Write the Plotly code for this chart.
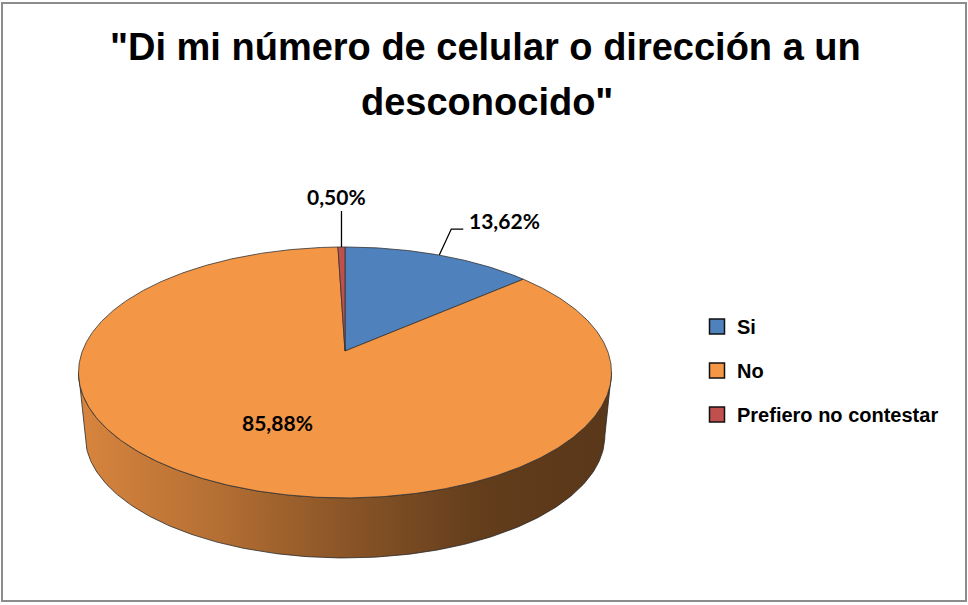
import numpy as np
import plotly.graph_objects as go

# ---------------- data ----------------
categories = ["Si", "No", "Prefiero no contestar"]
percentages = [13.62, 85.88, 0.50]
label_texts = ["13,62%", "85,88%", "0,50%"]
title_lines = ["\"Di mi número de celular o dirección a un", "desconocido\""]

# ---------------- style ----------------
slice_colors = ["#4F81BD", "#F39646", "#C0504D"]
TITLE_FONT = "Liberation Sans, Arial, sans-serif"
LABEL_FONT = "Lato, Carlito, Calibri, Open Sans, sans-serif"
W, H = 968, 605

# 3-D pie geometry (pixel space, perspective tilt)
CX, CY = 345.0, 351.0
RX, RY, K = 262.6, 121.8, 0.171
BOTTOM_CY, BOTTOM_SCALE = 414.7, 0.975
side_shade = [(0.0, 0.89), (0.25, 0.75), (0.5, 0.57), (0.75, 0.41), (1.0, 0.37)]


def proj(theta_deg, r=1.0, cy=CY, s=1.0):
    t = np.radians(theta_deg)
    u = r * np.sin(t)
    v = r * np.cos(t)
    d = 1 + K * v
    return CX + RX * s * u / d, cy - RY * s * v / d


def hex_to_rgb(h):
    h = h.lstrip("#")
    return tuple(int(h[i:i + 2], 16) for i in (0, 2, 4))


fig = go.Figure()

# slice angles (clockwise from 12 o'clock)
total = sum(percentages)
bounds = []
acc = 0.0
for p in percentages:
    a0 = acc / total * 360
    acc += p
    a1 = acc / total * 360
    bounds.append((a0, a1))

# ---- visible side wall (front half) ----
tR = np.degrees(np.arccos(-K))
tL = 360 - tR
for (a0, a1), col in zip(bounds, slice_colors):
    s0, s1 = max(a0, tR), min(a1, tL)
    if s1 <= s0:
        continue
    th = np.linspace(s0, s1, 200)
    xt, yt = proj(th)
    xb, yb = proj(th[::-1], cy=BOTTOM_CY, s=BOTTOM_SCALE)
    xs = np.concatenate([xt, xb, xt[:1]])
    ys = np.concatenate([yt, yb, yt[:1]])
    r, g, b = hex_to_rgb(col)
    cs = [[f, f"rgb({int(r*k)},{int(g*k)},{int(b*k)})"] for f, k in side_shade]
    fig.add_trace(go.Scatter(
        x=xs, y=ys, mode="lines", fill="toself",
        fillgradient=dict(type="horizontal", colorscale=cs),
        line=dict(color="#2a2a2a", width=0.8),
        showlegend=False, hoverinfo="skip"))

# ---- top face slices ----
for (a0, a1), col, cat in zip(bounds, slice_colors, categories):
    n = max(4, int((a1 - a0) * 2))
    th = np.linspace(a0, a1, n)
    xa, ya = proj(th)
    xs = np.concatenate([[CX], xa, [CX]])
    ys = np.concatenate([[CY], ya, [CY]])
    fig.add_trace(go.Scatter(
        x=xs, y=ys, mode="lines", fill="toself", fillcolor=col,
        line=dict(color="#333333", width=0.8),
        showlegend=False, name=cat, hoverinfo="skip"))

# ---- data labels ----
annotations = []
label_style = dict(showarrow=False, font=dict(family=LABEL_FONT, size=21, color="#000000", weight="bold"),
                   xref="x", yref="y")
for (a0, a1), txt, cat in zip(bounds, label_texts, categories):
    mid = (a0 + a1) / 2
    ax, ay = proj(mid)
    if cat == "Si":
        lx, ly = ax + 65, ay - 35
        fig.add_trace(go.Scatter(x=[ax, lx - 53, lx - 41], y=[ay, ly + 9, ly + 9], mode="lines",
                                 line=dict(color="#000000", width=1.3), showlegend=False, hoverinfo="skip"))
    elif cat == "No":
        lx, ly = proj(mid, r=0.58)
    else:
        lx, ly = ax - 5, ay - 51
        fig.add_trace(go.Scatter(x=[ax, ax], y=[ay, ly + 15], mode="lines",
                                 line=dict(color="#000000", width=1.3), showlegend=False, hoverinfo="skip"))
    annotations.append(dict(x=lx, y=ly, text=txt, **label_style))

# ---- title (two lines, Excel-like line spacing) ----
for line, (tx, ty) in zip(title_lines, [(485, 47), (487, 102)]):
    annotations.append(dict(x=tx, y=ty, xref="x", yref="y", text=line, showarrow=False,
                            xanchor="center", yanchor="middle",
                            font=dict(family=TITLE_FONT, size=38, color="#000000", weight="bold")))

# ---- legend entries ----
for cat, col in zip(categories, slice_colors):
    fig.add_trace(go.Scatter(
        x=[None], y=[None], mode="markers", name=cat, legendgroup=cat,
        marker=dict(symbol="square", size=15, color=col, line=dict(color="#111111", width=1.5))))

fig.update_layout(
    width=W, height=H,
    margin=dict(l=0, r=0, t=0, b=0),
    paper_bgcolor="white", plot_bgcolor="white",
    xaxis=dict(range=[0, W], visible=False, fixedrange=True),
    yaxis=dict(range=[H, 0], visible=False, fixedrange=True),
    legend=dict(x=697 / W, y=1 - 307 / H, xanchor="left", yanchor="top",
                font=dict(family=TITLE_FONT, size=20, color="#000000", weight="bold"),
                tracegroupgap=15, bgcolor="rgba(0,0,0,0)"),
    annotations=annotations,
    shapes=[dict(type="rect", xref="paper", yref="paper",
                 x0=2 / W, x1=966 / W, y0=1 - 601 / H, y1=1 - 3 / H,
                 line=dict(color="#8C8C8C", width=2), fillcolor="rgba(0,0,0,0)")],
    showlegend=True,
)

fig.write_html("out.html", config={"displayModeBar": False},
               post_script="document.body.style.margin='0';document.body.style.overflow='hidden';")
